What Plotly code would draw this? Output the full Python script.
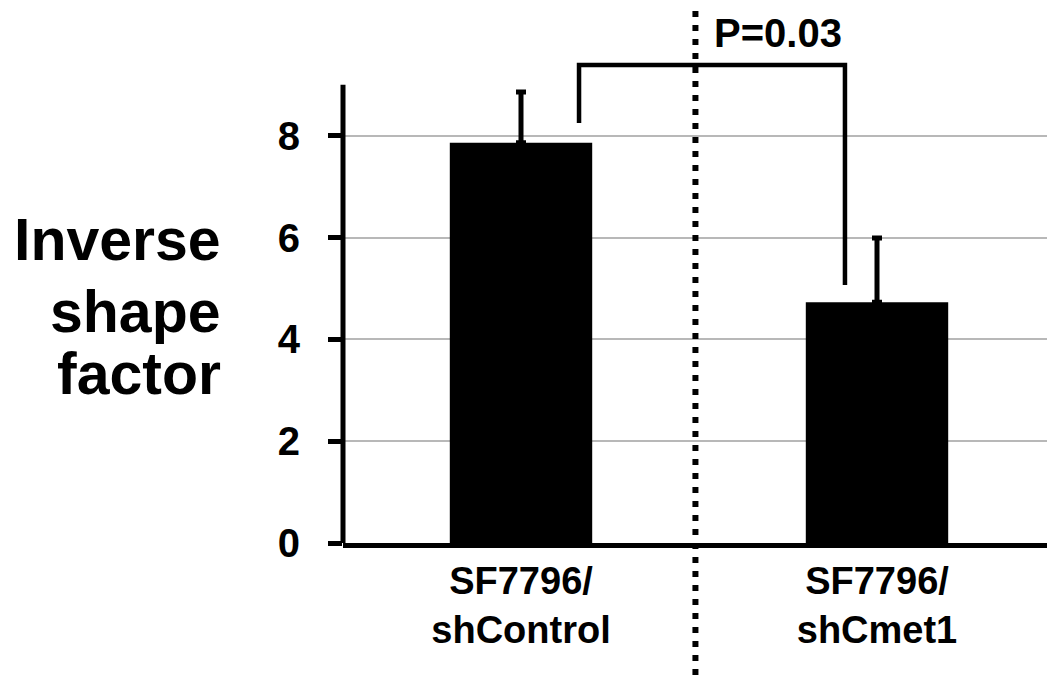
import plotly.graph_objects as go

# values
categories = ["SF7796/<br>shControl", "SF7796/<br>shCmet1"]
shape_factor = [7.86, 4.73]
shape_factor_err = [1.0, 1.26]
y_ticks = [0, 2, 4, 6, 8]
y_title_lines = ["Inverse", "shape", "factor"]
p_label = "P=0.03"

FONT = "Liberation Sans, Arial, sans-serif"

fig = go.Figure()

fig.add_trace(go.Bar(
    x=categories,
    y=shape_factor,
    width=0.4,
    marker=dict(color="black", line=dict(width=0)),
    error_y=dict(
        type="data",
        symmetric=False,
        array=shape_factor_err,
        arrayminus=[0] * len(shape_factor_err),
        color="black",
        thickness=5,
        width=5,
    ),
    showlegend=False,
))

# y axis line only from 0 to 9 (range is extended to fit the bracket)
fig.add_shape(type="line", xref="paper", yref="y", x0=0, x1=0, y0=0, y1=9,
              line=dict(color="black", width=5))

# dotted separator through the whole figure
fig.add_shape(type="line", xref="x", yref="paper", x0=0.49, x1=0.49, y0=-0.3, y1=1.1,
              line=dict(color="black", width=6, dash="6px,8px"))

# significance bracket
fig.add_shape(type="path", xref="x", yref="y",
              path="M 0.163,8.25 L 0.163,9.39 L 0.91,9.39 L 0.91,5.07",
              line=dict(color="black", width=4.5))

fig.add_annotation(x=0.537, y=10.02, xref="x", yref="y", text=p_label,
                   showarrow=False, xanchor="left", yanchor="middle",
                   font=dict(family=FONT, size=40, color="black", weight="bold"))

# y title, three right-aligned lines
for line, yy in zip(y_title_lines, [5.95, 4.54, 3.32]):
    fig.add_annotation(x=0, y=yy, xref="paper", yref="y", text=line,
                       showarrow=False, xanchor="right", yanchor="middle", xshift=-120,
                       font=dict(family=FONT, size=59, color="black", weight="bold"))

fig.update_layout(
    width=1055, height=680,
    margin=dict(l=335, r=8, t=2, b=145),
    plot_bgcolor="white", paper_bgcolor="white",
    bargap=0.6,
    font=dict(family=FONT, color="black"),
)

fig.update_xaxes(
    range=[-0.5, 1.5],
    showline=True, linecolor="black", linewidth=5,
    ticks="", showgrid=False, zeroline=False,
    tickfont=dict(family=FONT, size=38, color="black", weight="bold"),
    ticklabelstandoff=0,
)

fig.update_yaxes(
    range=[0, 10.47],
    tickvals=y_ticks,
    showline=False, zeroline=False,
    showgrid=True, gridcolor="#b8b8b8", gridwidth=1.5,
    ticks="outside", ticklen=14, tickwidth=5, tickcolor="black",
    tickfont=dict(family=FONT, size=40, color="black", weight="bold"),
    ticklabelstandoff=20,
)

fig.write_html("out.html")
